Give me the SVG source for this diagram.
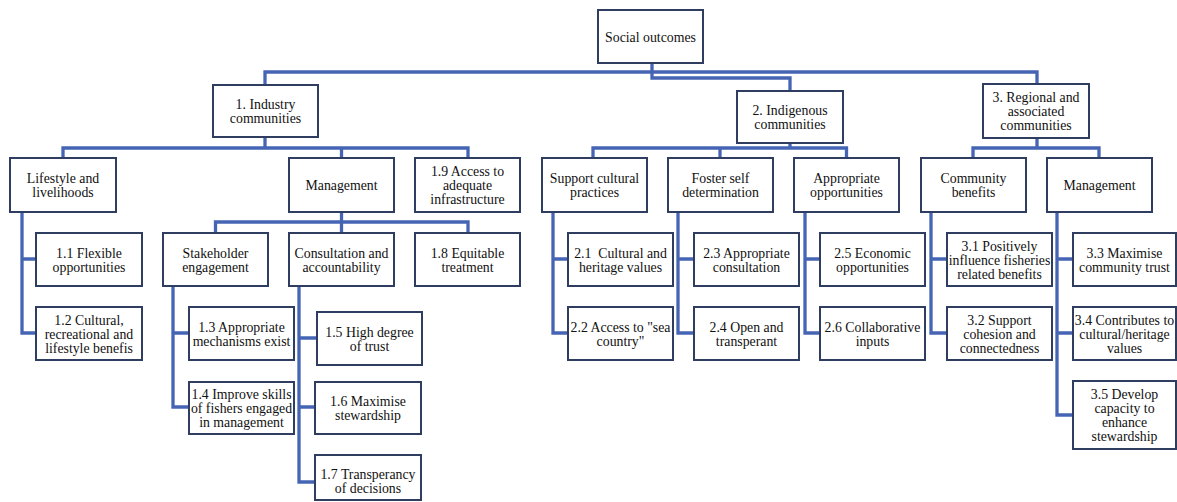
<svg xmlns="http://www.w3.org/2000/svg" width="1177" height="502" viewBox="0 0 1177 502">
<style>
.box{fill:#fff;stroke:#2f3e60;stroke-width:2}
.t{font-family:"Liberation Serif","Times New Roman","DejaVu Serif",serif;font-size:13.8px;fill:#111;text-anchor:middle}
.c{fill:none;stroke:#4565b4;stroke-width:3.3;stroke-linejoin:miter}
</style>
<rect width="1177" height="502" fill="#fff"/>
<g id="connectors" class="c">
<path d="M265 85V72H1037V84"/>
<path d="M652 63V78H790V91"/>
<path d="M265 137V148"/>
<path d="M63 158V148H468V158"/>
<path d="M341.5 148V158"/>
<path d="M341.5 212V222"/>
<path d="M215.5 233V222H468V233"/>
<path d="M341.5 222V233"/>
<path d="M22 212V333H36M22 259H36"/>
<path d="M173 286V407H189M173 333H189"/>
<path d="M299 286V482H315M299 338H317M299 407H315"/>
<path d="M790 143V148"/>
<path d="M593 159V148H846.5V159"/>
<path d="M720 148V159"/>
<path d="M553 212V333H568M553 259H568"/>
<path d="M678 212V333H694M678 259H694"/>
<path d="M805 212V333H820M805 259H820"/>
<path d="M1037 138V148"/>
<path d="M973 159V148H1099V159"/>
<path d="M931 212V333H947M931 259H947"/>
<path d="M1057 212V415H1073M1057 259H1073M1057 333H1073"/>
</g>
<g id="root"><rect class="box" x="598" y="10" width="105" height="53"/><text class="t" x="650.5" y="41.5">Social outcomes</text></g>
<g id="n1"><rect class="box" x="213" y="85" width="105" height="52"/><text class="t" x="265.5" y="109">1. Industry</text><text class="t" x="265.5" y="123">communities</text></g>
<g id="n2"><rect class="box" x="737" y="91" width="106" height="52"/><text class="t" x="790" y="115">2. Indigenous</text><text class="t" x="790" y="129">communities</text></g>
<g id="n3"><rect class="box" x="983" y="84" width="106" height="54"/><text class="t" x="1036" y="102">3. Regional and</text><text class="t" x="1036" y="116">associated</text><text class="t" x="1036" y="130">communities</text></g>

<g id="lifestyle"><rect class="box" x="10" y="158" width="106" height="54"/><text class="t" x="63" y="183">Lifestyle and</text><text class="t" x="63" y="197">livelihoods</text></g>
<g id="mgmt1"><rect class="box" x="289" y="158" width="105" height="54"/><text class="t" x="341.5" y="190">Management</text></g>
<g id="n19"><rect class="box" x="415" y="158" width="105" height="54"/><text class="t" x="467.5" y="176">1.9 Access to</text><text class="t" x="467.5" y="190">adequate</text><text class="t" x="467.5" y="204">infrastructure</text></g>
<g id="support"><rect class="box" x="542" y="158" width="105" height="54"/><text class="t" x="594.5" y="183">Support cultural</text><text class="t" x="594.5" y="197">practices</text></g>
<g id="foster"><rect class="box" x="668" y="158" width="105" height="54"/><text class="t" x="720.5" y="183">Foster self</text><text class="t" x="720.5" y="197">determination</text></g>
<g id="approp"><rect class="box" x="794" y="158" width="105" height="54"/><text class="t" x="846.5" y="183">Appropriate</text><text class="t" x="846.5" y="197">opportunities</text></g>
<g id="community"><rect class="box" x="921" y="158" width="105" height="54"/><text class="t" x="973.5" y="183">Community</text><text class="t" x="973.5" y="197">benefits</text></g>
<g id="mgmt3"><rect class="box" x="1047" y="158" width="105" height="54"/><text class="t" x="1099.5" y="190">Management</text></g>

<g id="n11"><rect class="box" x="36" y="233" width="106" height="53"/><text class="t" x="89" y="257.5">1.1 Flexible</text><text class="t" x="89" y="271.5">opportunities</text></g>
<g id="stake"><rect class="box" x="163" y="233" width="105" height="53"/><text class="t" x="215.5" y="257.5">Stakeholder</text><text class="t" x="215.5" y="271.5">engagement</text></g>
<g id="consult"><rect class="box" x="289" y="233" width="105" height="53"/><text class="t" x="341.5" y="257.5">Consultation and</text><text class="t" x="341.5" y="271.5">accountability</text></g>
<g id="n18"><rect class="box" x="415" y="233" width="105" height="53"/><text class="t" x="467.5" y="257.5">1.8 Equitable</text><text class="t" x="467.5" y="271.5">treatment</text></g>
<g id="n21"><rect class="box" x="568" y="233" width="105" height="53"/><text class="t" x="620.5" y="257.5" xml:space="preserve">2.1  Cultural and</text><text class="t" x="620.5" y="271.5">heritage values</text></g>
<g id="n23"><rect class="box" x="694" y="233" width="105" height="53"/><text class="t" x="746.5" y="257.5">2.3 Appropriate</text><text class="t" x="746.5" y="271.5">consultation</text></g>
<g id="n25"><rect class="box" x="820" y="233" width="105" height="53"/><text class="t" x="872.5" y="257.5">2.5 Economic</text><text class="t" x="872.5" y="271.5">opportunities</text></g>
<g id="n31"><rect class="box" x="947" y="233" width="105" height="53"/><text class="t" x="999.5" y="250.5">3.1 Positively</text><text class="t" x="999.5" y="264.5">influence fisheries</text><text class="t" x="999.5" y="278.5">related benefits</text></g>
<g id="n33"><rect class="box" x="1073" y="233" width="103" height="53"/><text class="t" x="1124.5" y="257.5">3.3 Maximise</text><text class="t" x="1124.5" y="271.5">community trust</text></g>

<g id="n12"><rect class="box" x="36" y="307" width="106" height="53"/><text class="t" x="89" y="324.5">1.2 Cultural,</text><text class="t" x="89" y="338.5">recreational and</text><text class="t" x="89" y="352.5">lifestyle benefis</text></g>
<g id="n13"><rect class="box" x="189" y="307" width="105" height="53"/><text class="t" x="241.5" y="331.5">1.3 Appropriate</text><text class="t" x="241.5" y="345.5">mechanisms exist</text></g>
<g id="n15"><rect class="box" x="317" y="312" width="105" height="53"/><text class="t" x="369.5" y="336.5">1.5 High degree</text><text class="t" x="369.5" y="350.5">of trust</text></g>
<g id="n22"><rect class="box" x="568" y="307" width="105" height="53"/><text class="t" x="620.5" y="331.5">2.2 Access to "sea</text><text class="t" x="620.5" y="345.5">country"</text></g>
<g id="n24"><rect class="box" x="694" y="307" width="105" height="53"/><text class="t" x="746.5" y="331.5">2.4 Open and</text><text class="t" x="746.5" y="345.5">transperant</text></g>
<g id="n26"><rect class="box" x="820" y="307" width="105" height="53"/><text class="t" x="872.5" y="331.5">2.6 Collaborative</text><text class="t" x="872.5" y="345.5">inputs</text></g>
<g id="n32"><rect class="box" x="947" y="307" width="105" height="53"/><text class="t" x="999.5" y="324.5">3.2 Support</text><text class="t" x="999.5" y="338.5">cohesion and</text><text class="t" x="999.5" y="352.5">connectedness</text></g>
<g id="n34"><rect class="box" x="1073" y="307" width="103" height="53"/><text class="t" x="1124.5" y="324.5">3.4 Contributes to</text><text class="t" x="1124.5" y="338.5">cultural/heritage</text><text class="t" x="1124.5" y="352.5">values</text></g>

<g id="n14"><rect class="box" x="189" y="382" width="105" height="52"/><text class="t" x="241.5" y="399">1.4 Improve skills</text><text class="t" x="241.5" y="413">of fishers engaged</text><text class="t" x="241.5" y="427">in management</text></g>
<g id="n16"><rect class="box" x="315" y="382" width="106" height="52"/><text class="t" x="368" y="406">1.6 Maximise</text><text class="t" x="368" y="420">stewardship</text></g>
<g id="n35"><rect class="box" x="1073" y="381" width="103" height="68"/><text class="t" x="1124.5" y="399">3.5 Develop</text><text class="t" x="1124.5" y="413">capacity to</text><text class="t" x="1124.5" y="427">enhance</text><text class="t" x="1124.5" y="441">stewardship</text></g>
<g id="n17"><rect class="box" x="315" y="455" width="106" height="45"/><text class="t" x="368" y="479">1.7 Transperancy</text><text class="t" x="368" y="493">of decisions</text></g>
</svg>
